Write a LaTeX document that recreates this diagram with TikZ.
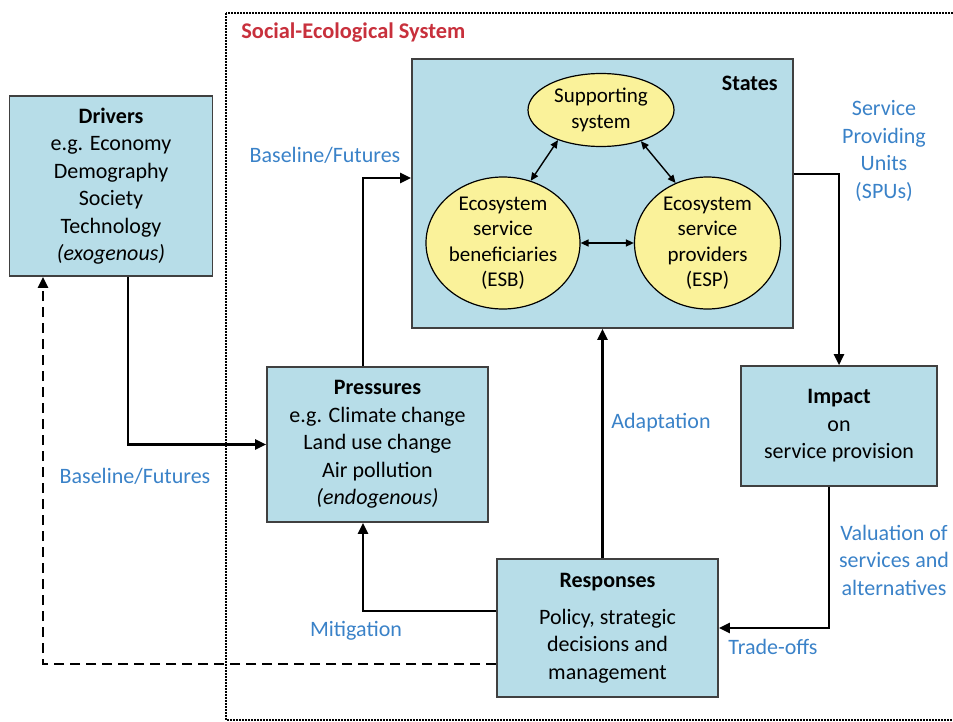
\documentclass[tikz,border=0pt]{standalone}
\usepackage{fontspec}
\setmainfont{Carlito}
\usetikzlibrary{arrows.meta}
\usetikzlibrary{shapes.geometric}
\definecolor{boxblue}{HTML}{B7DDE8}
\definecolor{boxedge}{HTML}{404040}
\definecolor{bubblefill}{HTML}{FAF29A}
\definecolor{labelblue}{HTML}{3A82C8}
\definecolor{sesred}{HTML}{C8303C}
\tikzstyle{txt}=[font=\fontsize{11}{13.75}\selectfont, align=center, inner sep=0pt]
\tikzstyle{block}=[txt, draw=boxedge, fill=boxblue, line width=0.8pt]
\tikzstyle{bubble}=[txt, font=\fontsize{10.5}{12.75}\selectfont, ellipse, draw=black, fill=bubblefill, line width=0.6pt]
\tikzstyle{flow}=[-{Triangle[length=5.5pt, width=5pt]}, line width=1.2pt]
\tikzstyle{link}=[{Triangle[length=4pt, width=3.5pt]}-{Triangle[length=4pt, width=3.5pt]}, line width=0.7pt]
\tikzstyle{lbl}=[txt, text=labelblue]

\begin{document}
\begin{tikzpicture}[x=0.5pt, y=-0.5pt]
        \useasboundingbox (0, 0) rectangle (953, 722);
        \draw[line width=1.1pt, dash pattern=on 0.8pt off 0.7pt] (226, 13) rectangle (970, 720);
        \node[txt, anchor=west, text=sesred, font=\fontsize{11.2}{13.75}\selectfont\bfseries] (sestitle) at (241, 33) {Social-Ecological System};

        \node[block, minimum width=101.5pt, minimum height=90pt] (Drivers) at (111, 186)
            {\textbf{Drivers}\\e.g. Economy\\Demography\\Society\\Technology\\\textit{(exogenous)}};
        \node[block, minimum width=110.5pt, minimum height=77.5pt] (Pressures) at (377.5, 444.5)
            {\textbf{Pressures}\\e.g. Climate change\\Land use change\\Air pollution\\\textit{(endogenous)}};
        \node[block, minimum width=190.5pt, minimum height=134.5pt] (States) at (602.5, 193.5) {};
        \node[txt, anchor=east] (stateslabel) at (778, 83) {\textbf{States}};
        \node[block, minimum width=98pt, minimum height=60pt] (Impact) at (839, 426)
            {\textbf{Impact}\\on\\service provision};
        \node[block, minimum width=110.5pt, minimum height=69pt] (Responses) at (607.5, 628)
            {\textbf{Responses}\\[4.75pt]Policy, strategic\\decisions and\\management};

        \node[bubble, minimum width=73pt, minimum height=36.5pt] (Supp) at (601, 110) {Supporting\\system};
        \node[bubble, minimum width=77pt, minimum height=66pt] (ESB) at (503, 243)
            {Ecosystem\\service\\beneficiaries\\(ESB)};
        \node[bubble, minimum width=73pt, minimum height=66pt] (ESP) at (707.5, 243)
            {Ecosystem\\service\\providers\\(ESP)};
        \draw[link] (Supp.215) -- (ESB.66);
        \draw[link] (Supp.322) -- (ESP.118);
        \draw[link] (ESB.east) -- (ESP.west);

        \draw[flow] ([xshift=8.5pt]Drivers.south) |- (Pressures.west);
        \draw[flow] ([xshift=-7.25pt]Pressures.north) |- (States.west |- 0, 178);
        \draw[flow] (States.east |- 0, 174) -| (Impact.north);
        \draw[flow] ([xshift=-5pt]Impact.south) |- (Responses.east);
        \draw[flow] (Responses.north -| States.south) -- (States.south);
        \draw[flow] (Responses.west |- 0, 611) -| ([xshift=-7.25pt]Pressures.south);
        \draw[flow, dash pattern=on 5pt off 3pt] (Responses.west |- 0, 664) -| ([xshift=-34pt]Drivers.south);

        \node[lbl] (basetop) at (325, 155) {Baseline/Futures};
        \node[lbl] (spu) at (884, 151) {Service\\Providing\\Units\\(SPUs)};
        \node[lbl] (adapt) at (661, 423) {Adaptation};
        \node[lbl] (basebot) at (135, 476) {Baseline/Futures};
        \node[lbl] (mitig) at (356, 631) {Mitigation};
        \node[lbl] (valu) at (894, 560) {Valuation of\\services and\\alternatives};
        \node[lbl] (trade) at (773, 647) {Trade-offs};
    \end{tikzpicture}
\end{document}
